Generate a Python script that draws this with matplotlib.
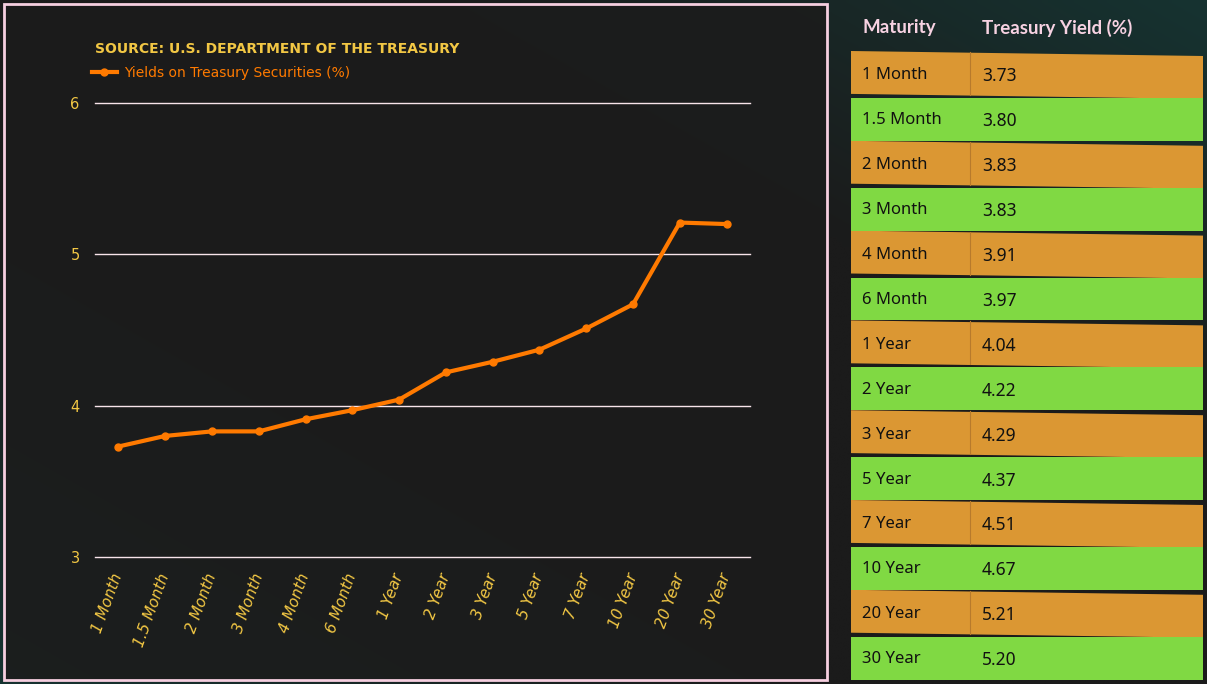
import numpy as np
import matplotlib.pyplot as plt
from matplotlib.patches import Rectangle, Polygon

maturities = ['1 Month', '1.5 Month', '2 Month', '3 Month', '4 Month', '6 Month',
              '1 Year', '2 Year', '3 Year', '5 Year', '7 Year', '10 Year',
              '20 Year', '30 Year']
yields = [3.73, 3.80, 3.83, 3.83, 3.91, 3.97, 4.04, 4.22, 4.29, 4.37, 4.51,
          4.67, 5.21, 5.20]
yticks = [3, 4, 5, 6]

W, H = 1207, 684
fig = plt.figure(figsize=(W / 100, H / 100), dpi=100)
fig.patch.set_facecolor('#1b1b1b')

# background with teal corners
bg = fig.add_axes([0, 0, 1, 1], zorder=-10)
bg.set_xlim(0, W)
bg.set_ylim(H, 0)
bg.axis('off')
gx, gy = np.meshgrid(np.linspace(0, 1, 240), np.linspace(0, 1, 140))
d = (gx - gy)  # +1 at top-right, -1 at bottom-left
t = np.clip(np.abs(d) - 0.35, 0, None) / 0.65
dark = np.array([0x1b, 0x1b, 0x1b]) / 255
teal = np.array([0x16, 0x33, 0x31]) / 255
img = dark[None, None, :] * (1 - t[..., None]) + teal[None, None, :] * t[..., None]
bg.imshow(img, extent=[0, W, H, 0], aspect='auto', interpolation='bilinear')

# chart panel
bg.add_patch(Rectangle((4, 4), 823, 676, facecolor='#1c1c1c', alpha=0.9,
                       edgecolor='none'))
bg.add_patch(Rectangle((4, 4), 823, 676, facecolor='none',
                       edgecolor='#f6cfe0', lw=2))

# line chart
ax = fig.add_axes([95 / W, 1 - 557 / H, 655 / W, 454 / H])
ax.set_facecolor('none')
x = np.arange(len(maturities))
ax.plot(x, yields, color='#ff7a00', lw=3, marker='o', ms=5, zorder=3,
        label='Yields on Treasury Securities (%)')
ax.set_xlim(-0.5, len(maturities) - 0.5)
ax.set_ylim(3, 6)
ax.set_yticks(yticks)
ax.set_yticklabels([str(v) for v in yticks])
ax.grid(axis='y', color='#f8e4ea', lw=1)
for gl in ax.get_ygridlines():
    gl.set_clip_on(False)
ax.set_axisbelow(True)
for s in ax.spines.values():
    s.set_visible(False)
ax.tick_params(axis='y', length=0, pad=11, colors='#f2c744', labelsize=10.5)
ax.tick_params(axis='x', length=0, pad=12, colors='#f2c744', labelsize=11)
ax.set_xticks(x)
ax.set_xticklabels(maturities, rotation=70, ha='right', va='center',
                   rotation_mode='anchor', style='italic')

fig.text(95 / W, 1 - 49 / H, 'SOURCE: U.S. DEPARTMENT OF THE TREASURY',
         color='#f2c744', fontsize=10, fontweight='bold', va='center')
leg = ax.legend(loc='center left', bbox_to_anchor=(-0.005, 1.066),
                frameon=False, fontsize=10, handlelength=1.8,
                handletextpad=0.5, borderaxespad=0, borderpad=0)
for txt in leg.get_texts():
    txt.set_color('#ff7a00')

# table
bg.text(862, 28, 'Maturity', color='#f7d2e2', fontsize=13.5,
        fontweight='bold', family='Lato', va='center')
bg.text(982, 28, 'Treasury Yield (%)', color='#f7d2e2', fontsize=13.5,
        fontweight='bold', family='Lato', va='center')

top, step = 52, 44.9
x0, xm, x1 = 851, 970, 1203
for i, (m, v) in enumerate(zip(maturities, yields)):
    ya = top + i * step
    yb = ya + step - 2
    yc = (ya + yb) / 2
    if i % 2 == 0:
        bg.add_patch(Polygon([(x0, ya - 1), (x1, ya + 4), (x1, yb + 4),
                              (x0, yb - 1)], closed=True,
                             facecolor='#db9733', edgecolor='none', zorder=2))
        bg.plot([xm, xm], [ya, yb], color='#b77a2c', lw=0.8, zorder=2.5)
    else:
        bg.add_patch(Rectangle((x0, ya + 1), x1 - x0, yb - ya,
                               facecolor='#80d943', edgecolor='none', zorder=3))
    bg.text(862, yc + 2, m, color='#111111', fontsize=12, family='Noto Sans',
            va='center', zorder=4)
    bg.text(982, yc + 3, f'{v:.2f}', color='#111111', fontsize=12.5,
            family='Noto Sans', va='center', zorder=4)

fig.savefig('out.png', dpi=100, facecolor=fig.get_facecolor())
